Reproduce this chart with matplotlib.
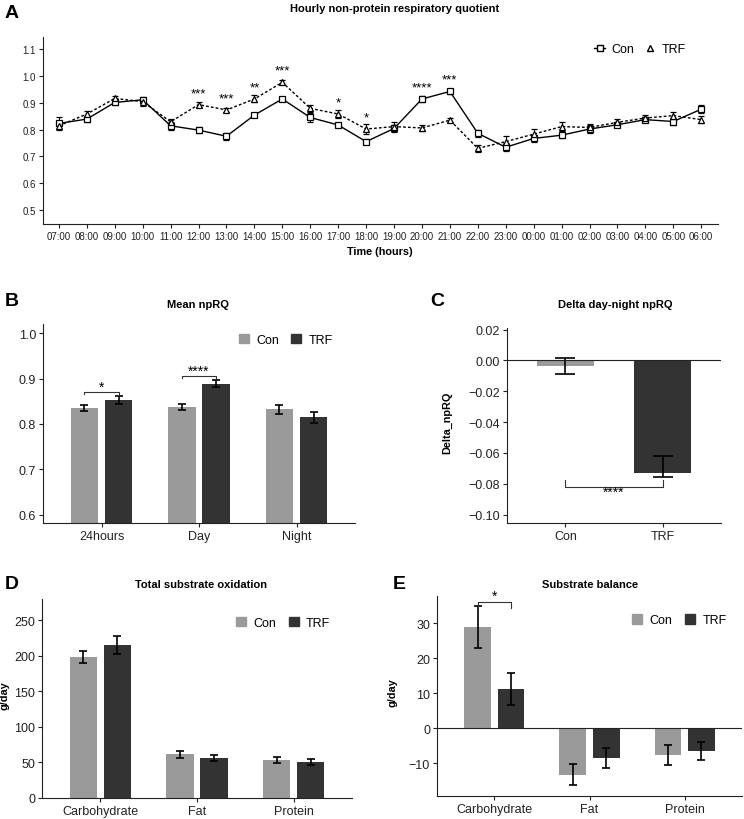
import numpy as np
import matplotlib
matplotlib.use('Agg')
import matplotlib.pyplot as plt
from matplotlib.lines import Line2D
from matplotlib.patches import Patch

plt.rcParams['font.family'] = ['Liberation Sans', 'DejaVu Sans']

# ---- data ----
hours = ['07:00', '08:00', '09:00', '10:00', '11:00', '12:00', '13:00', '14:00',
         '15:00', '16:00', '17:00', '18:00', '19:00', '20:00', '21:00', '22:00',
         '23:00', '00:00', '01:00', '02:00', '03:00', '04:00', '05:00', '06:00']
con_rq = [0.823, 0.839, 0.901, 0.911, 0.814, 0.798, 0.775, 0.854, 0.914, 0.845, 0.817, 0.755,
          0.804, 0.914, 0.942, 0.786, 0.734, 0.767, 0.779, 0.802, 0.818, 0.837, 0.830, 0.876]
trf_rq = [0.814, 0.858, 0.916, 0.904, 0.829, 0.893, 0.873, 0.914, 0.976, 0.879, 0.858, 0.802,
          0.811, 0.806, 0.835, 0.730, 0.755, 0.783, 0.811, 0.808, 0.827, 0.843, 0.852, 0.837]
con_rq_err = [0.025, 0.010, 0.010, 0.012, 0.015, 0.010, 0.013, 0.008, 0.007, 0.015, 0.008, 0.010,
              0.012, 0.012, 0.008, 0.013, 0.015, 0.013, 0.010, 0.015, 0.010, 0.010, 0.012, 0.014]
trf_rq_err = [0.012, 0.010, 0.010, 0.015, 0.010, 0.008, 0.008, 0.013, 0.008, 0.012, 0.015, 0.018,
              0.018, 0.010, 0.008, 0.012, 0.020, 0.018, 0.018, 0.012, 0.014, 0.010, 0.015, 0.014]
hour_sig = ['', '', '', '', '', '***', '***', '**', '***', '', '*', '*',
            '', '****', '***', '', '', '', '', '', '', '', '', '']

periods = ['24hours', 'Day', 'Night']
con_mean = [0.835, 0.837, 0.832]
trf_mean = [0.852, 0.889, 0.815]
con_mean_err = [0.007, 0.007, 0.009]
trf_mean_err = [0.009, 0.008, 0.012]

groups = ['Con', 'TRF']
delta = [-0.0039, -0.0727]
delta_err_lo = [0.0052, 0.0030]
delta_err_hi = [0.0052, 0.0108]

substrates = ['Carbohydrate', 'Fat', 'Protein']
con_ox = [198.5, 61.4, 53.8]
trf_ox = [215.3, 55.7, 50.5]
con_ox_err = [9.0, 4.5, 4.5]
trf_ox_err = [13.0, 4.2, 4.2]

con_bal = [29.0, -13.3, -7.5]
trf_bal = [11.2, -8.4, -6.4]
con_bal_err = [6.0, 3.0, 2.9]
trf_bal_err = [4.6, 2.8, 2.5]

CON = '#9a9a9a'
TRF = '#333333'
W, H = 744, 820


def box(l, t, r, b):
    return [l / W, 1 - b / H, (r - l) / W, (b - t) / H]


def ftext(x, y, s, **kw):
    fig.text(x / W, 1 - y / H, s, **kw)


def style(ax, size=9):
    for s in ['top', 'right']:
        ax.spines[s].set_visible(False)
    for s in ['left', 'bottom']:
        ax.spines[s].set_linewidth(0.8)
        ax.spines[s].set_color('#222222')
    ax.tick_params(labelsize=size, length=3, width=0.8, colors='#222222', pad=2)


def bar_legend(ax, anchor):
    h = [Patch(color=CON, label='Con'), Patch(color=TRF, label='TRF')]
    ax.legend(handles=h, loc='center right', bbox_to_anchor=anchor, ncol=2, frameon=False,
              fontsize=9, handlelength=0.8, handleheight=0.8, handletextpad=0.6,
              columnspacing=1.0, borderpad=0)


def bracket(ax, x1, x2, y, tick, label, ty, size=10):
    ax.plot([x1, x1, x2, x2], [y + tick, y, y, y + tick], color='#333333', lw=0.8, clip_on=False)
    ax.text((x1 + x2) / 2, ty, label, ha='center', va='center', fontsize=size, clip_on=False)


fig = plt.figure(figsize=(W / 100, H / 100), dpi=100)

# ---- A: hourly npRQ ----
axA = fig.add_axes(box(43, 38, 718, 225))
x = np.arange(len(hours))
axA.errorbar(x, con_rq, yerr=con_rq_err, color='black', lw=1, marker='s', ms=4.5,
             mfc='white', mec='black', mew=0.9, capsize=2.5, elinewidth=0.8, label='Con')
axA.errorbar(x, trf_rq, yerr=trf_rq_err, color='black', lw=1, ls=(0, (2, 1.5)), marker='^',
             ms=5, mfc='white', mec='black', mew=0.9, capsize=2.5, elinewidth=0.8, label='TRF')
for i, s in enumerate(hour_sig):
    if s:
        axA.text(x[i], max(con_rq[i], trf_rq[i]) + 0.043, s, ha='center', va='center', fontsize=9.5)
axA.set_xlim(-0.57, 23.6)
axA.set_ylim(0.448, 1.145)
axA.set_xticks(x)
axA.set_xticklabels(hours)
axA.set_yticks(np.arange(0.5, 1.15, 0.1))
axA.set_yticklabels(['0.5', '0.6', '0.7', '0.8', '0.9', '1.0', '1.1'])
style(axA, 7)
hA = [Line2D([], [], color='black', lw=1, marker='s', ms=4.5, mfc='white', mec='black'),
      Line2D([], [], color='black', lw=0, marker='^', ms=5, mfc='white', mec='black')]
axA.legend(hA, ['Con', 'TRF'], loc='center right', bbox_to_anchor=(0.962, 0.936), ncol=2,
           frameon=False, fontsize=9, handlelength=0.9, handletextpad=0.5, columnspacing=0.8,
           borderpad=0)
ftext(395, 9, 'Hourly non-protein respiratory quotient', ha='center', va='center',
      fontsize=8, fontweight='bold')
ftext(380, 252, 'Time (hours)', ha='center', va='center', fontsize=7.8, fontweight='bold')
ftext(12, 13, 'A', ha='center', va='center', fontsize=14, fontweight='bold')

# ---- B: mean npRQ ----
axB = fig.add_axes(box(43, 325, 355, 524))
xb = np.arange(len(periods))
axB.bar(xb - 0.175, con_mean, 0.28, color=CON)
axB.bar(xb + 0.175, trf_mean, 0.28, color=TRF)
axB.errorbar(xb - 0.175, con_mean, yerr=con_mean_err, fmt='none', ecolor='black', capsize=3,
             elinewidth=1.2, capthick=1.2)
axB.errorbar(xb + 0.175, trf_mean, yerr=trf_mean_err, fmt='none', ecolor='black', capsize=3,
             elinewidth=1.2, capthick=1.2)
bracket(axB, -0.175, 0.175, 0.870, -0.004, '*', 0.881)
bracket(axB, 0.825, 1.175, 0.906, -0.004, '****', 0.917)
axB.set_xlim(-0.6, 2.6)
axB.set_ylim(0.582, 1.02)
axB.set_xticks(xb)
axB.set_xticklabels(periods)
axB.set_yticks([0.6, 0.7, 0.8, 0.9, 1.0])
axB.set_yticklabels(['0.6', '0.7', '0.8', '0.9', '1.0'])
style(axB)
bar_legend(axB, (0.95, 0.92))
ftext(198, 305, 'Mean npRQ', ha='center', va='center', fontsize=8, fontweight='bold')
ftext(12, 302, 'B', ha='center', va='center', fontsize=14, fontweight='bold')

# ---- C: delta day-night ----
axC = fig.add_axes(box(507, 329, 721, 524))
xc = np.arange(len(groups))
axC.bar(xc, delta, 0.59, color=[CON, TRF])
axC.errorbar(xc, delta, yerr=[delta_err_lo, delta_err_hi], fmt='none', ecolor='black',
             capsize=7, elinewidth=1.2, capthick=1.2)
axC.axhline(0, color='#222222', lw=0.8)
bracket(axC, 0, 1, -0.0821, 0.0047, '****', -0.0849)
axC.set_xlim(-0.6, 1.6)
axC.set_ylim(-0.1054, 0.021)
axC.set_xticks(xc)
axC.set_xticklabels(groups)
axC.set_yticks([0.02, 0.0, -0.02, -0.04, -0.06, -0.08, -0.10])
axC.set_yticklabels(['0.02', '0.00', '\u22120.02', '\u22120.04', '\u22120.06', '\u22120.08',
                     '\u22120.10'])
style(axC)
axC.set_ylabel('Delta_npRQ', fontsize=7.8, fontweight='bold')
axC.yaxis.set_label_coords(-0.257, 0.52)
ftext(615, 305, 'Delta day-night npRQ', ha='center', va='center', fontsize=8,
      fontweight='bold')
ftext(437, 302, 'C', ha='center', va='center', fontsize=14, fontweight='bold')

# ---- D: total substrate oxidation ----
axD = fig.add_axes(box(42, 600, 352, 799))
xs = np.arange(len(substrates))
axD.bar(xs - 0.175, con_ox, 0.28, color=CON)
axD.bar(xs + 0.175, trf_ox, 0.28, color=TRF)
axD.errorbar(xs - 0.175, con_ox, yerr=con_ox_err, fmt='none', ecolor='black', capsize=3,
             elinewidth=1.2, capthick=1.2)
axD.errorbar(xs + 0.175, trf_ox, yerr=trf_ox_err, fmt='none', ecolor='black', capsize=3,
             elinewidth=1.2, capthick=1.2)
axD.set_xlim(-0.6, 2.6)
axD.set_ylim(0, 280)
axD.set_xticks(xs)
axD.set_xticklabels(substrates)
axD.set_yticks([0, 50, 100, 150, 200, 250])
style(axD)
bar_legend(axD, (0.95, 0.88))
axD.set_ylabel('g/day', fontsize=7.8, fontweight='bold')
axD.yaxis.set_label_coords(-0.105, 0.52)
ftext(201, 585, 'Total substrate oxidation', ha='center', va='center', fontsize=8,
      fontweight='bold')
ftext(12, 585, 'D', ha='center', va='center', fontsize=14, fontweight='bold')

# ---- E: substrate balance ----
axE = fig.add_axes(box(437, 597, 742, 797))
axE.bar(xs - 0.175, con_bal, 0.28, color=CON)
axE.bar(xs + 0.175, trf_bal, 0.28, color=TRF)
axE.errorbar(xs - 0.175, con_bal, yerr=con_bal_err, fmt='none', ecolor='black', capsize=3,
             elinewidth=1.2, capthick=1.2)
axE.errorbar(xs + 0.175, trf_bal, yerr=trf_bal_err, fmt='none', ecolor='black', capsize=3,
             elinewidth=1.2, capthick=1.2)
axE.axhline(0, color='#222222', lw=0.8)
bracket(axE, -0.175, 0.175, 36.2, -1.8, '*', 37.8)
axE.set_xlim(-0.6, 2.6)
axE.set_ylim(-19.3, 37.8)
axE.set_xticks(xs)
axE.set_xticklabels(substrates)
axE.set_yticks([-10, 0, 10, 20, 30])
axE.set_yticklabels(['\u221210', '0', '10', '20', '30'])
style(axE)
bar_legend(axE, (0.97, 0.88))
axE.set_ylabel('g/day', fontsize=7.8, fontweight='bold')
axE.yaxis.set_label_coords(-0.13, 0.52)
ftext(590, 585, 'Substrate balance', ha='center', va='center', fontsize=8, fontweight='bold')
ftext(399, 585, 'E', ha='center', va='center', fontsize=14, fontweight='bold')

fig.savefig('out.png', dpi=100)
